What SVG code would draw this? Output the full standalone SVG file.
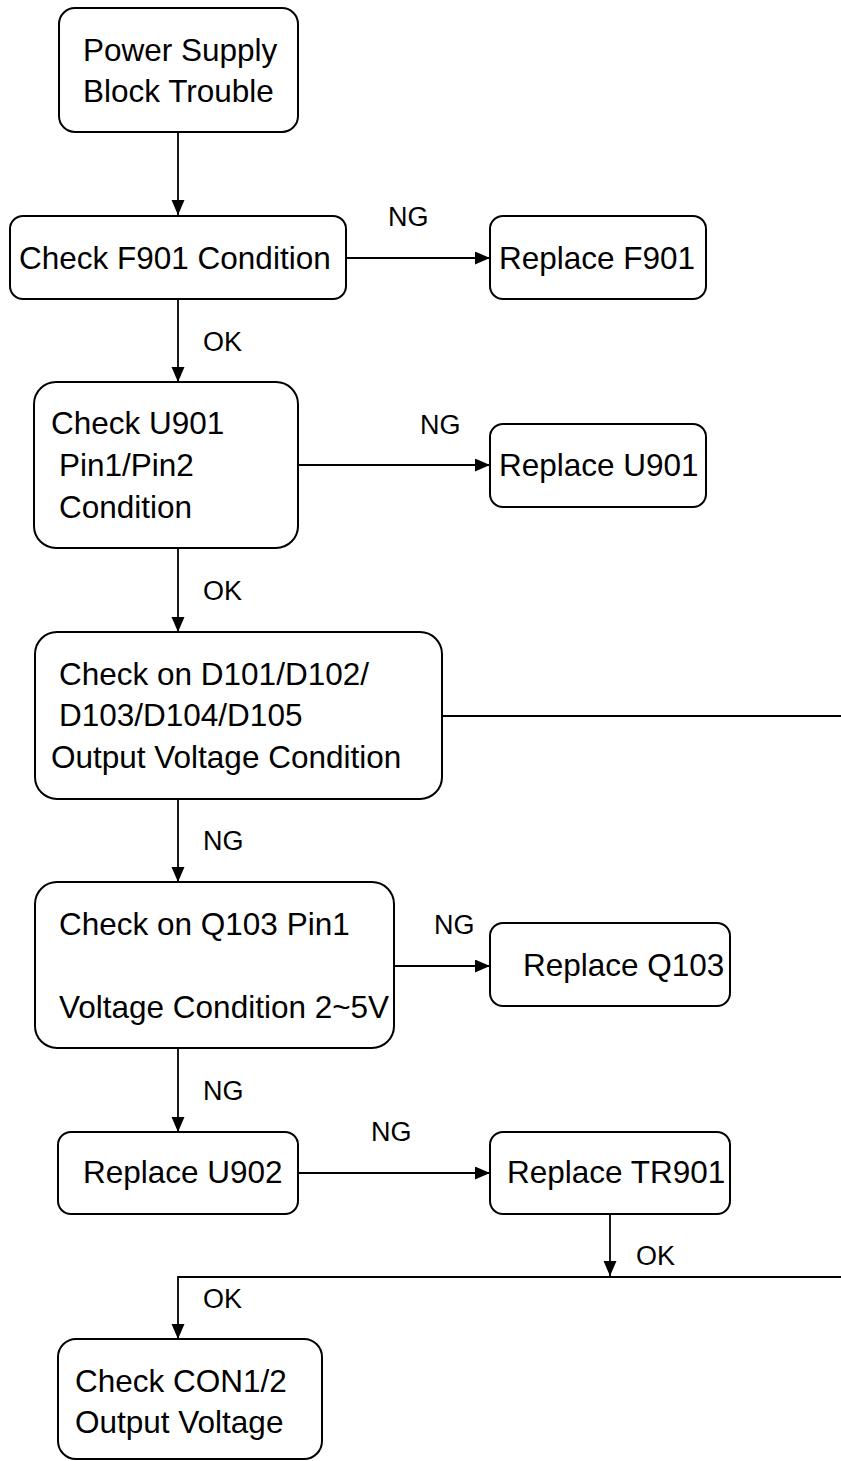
<svg xmlns="http://www.w3.org/2000/svg" width="841" height="1461" viewBox="0 0 841 1461">
<style>
.box{fill:#fff;stroke:#000;stroke-width:2}
.t{font-family:"Liberation Sans",Arial,sans-serif;font-size:31.5px;fill:#000}
.l{font-family:"Liberation Sans",Arial,sans-serif;font-size:27px;fill:#000}
.c{fill:none;stroke:#000;stroke-width:1.8}
</style>
<defs>
<marker id="ah" markerUnits="userSpaceOnUse" markerWidth="16" markerHeight="14" refX="15" refY="6.5" orient="auto">
<path d="M0,0 L15,6.5 L0,13 z" fill="#000"/>
</marker>
</defs>
<rect width="841" height="1461" fill="#fff"/>
<g id="connectors">
<line class="c" x1="178" y1="133" x2="178" y2="215" marker-end="url(#ah)"/>
<line class="c" x1="346" y1="258" x2="490" y2="258" marker-end="url(#ah)"/>
<line class="c" x1="178" y1="299" x2="178" y2="382" marker-end="url(#ah)"/>
<line class="c" x1="298" y1="465" x2="490" y2="465" marker-end="url(#ah)"/>
<line class="c" x1="178" y1="548" x2="178" y2="632" marker-end="url(#ah)"/>
<line class="c" x1="442" y1="716" x2="841" y2="716"/>
<line class="c" x1="178" y1="799" x2="178" y2="882" marker-end="url(#ah)"/>
<line class="c" x1="394" y1="966" x2="490" y2="966" marker-end="url(#ah)"/>
<line class="c" x1="178" y1="1048" x2="178" y2="1132" marker-end="url(#ah)"/>
<line class="c" x1="298" y1="1173" x2="490" y2="1173" marker-end="url(#ah)"/>
<line class="c" x1="610" y1="1214" x2="610" y2="1276" marker-end="url(#ah)"/>
<polyline class="c" points="841,1277 178,1277 178,1339" marker-end="url(#ah)"/>
<text class="l" x="388" y="226">NG</text>
<text class="l" x="203" y="351">OK</text>
<text class="l" x="420" y="434">NG</text>
<text class="l" x="203" y="600">OK</text>
<text class="l" x="203" y="850">NG</text>
<text class="l" x="434" y="934">NG</text>
<text class="l" x="203" y="1100">NG</text>
<text class="l" x="371" y="1141">NG</text>
<text class="l" x="636" y="1265">OK</text>
<text class="l" x="203" y="1308">OK</text>
</g>
<g id="n1"><rect class="box" x="59" y="8" width="239" height="124" rx="16"/>
<text class="t" x="83" y="61">Power Supply</text><text class="t" x="83" y="102">Block Trouble</text></g>
<g id="n2"><rect class="box" x="10" y="216" width="336" height="83" rx="13"/>
<text class="t" x="19" y="269">Check F901 Condition</text></g>
<g id="n3"><rect class="box" x="490" y="216" width="216" height="83" rx="13"/>
<text class="t" x="499" y="269">Replace F901</text></g>
<g id="n4"><rect class="box" x="34" y="382" width="264" height="166" rx="22"/>
<text class="t" x="51" y="434">Check U901</text><text class="t" x="59" y="476">Pin1/Pin2</text><text class="t" x="59" y="518">Condition</text></g>
<g id="n5"><rect class="box" x="490" y="424" width="216" height="83" rx="13"/>
<text class="t" x="499" y="476">Replace U901</text></g>
<g id="n6"><rect class="box" x="35" y="632" width="407" height="167" rx="22"/>
<text class="t" x="59" y="685">Check on D101/D102/</text><text class="t" x="59" y="726">D103/D104/D105</text><text class="t" x="51" y="768">Output Voltage Condition</text></g>
<g id="n7"><rect class="box" x="35" y="882" width="359" height="166" rx="22"/>
<text class="t" x="59" y="935">Check on Q103 Pin1</text><text class="t" x="59" y="1018">Voltage Condition 2~5V</text></g>
<g id="n8"><rect class="box" x="490" y="923" width="240" height="83" rx="13"/>
<text class="t" x="523" y="976">Replace Q103</text></g>
<g id="n9"><rect class="box" x="58" y="1132" width="240" height="82" rx="13"/>
<text class="t" x="83" y="1183">Replace U902</text></g>
<g id="n10"><rect class="box" x="490" y="1132" width="240" height="82" rx="13"/>
<text class="t" x="507" y="1183">Replace TR901</text></g>
<g id="n11"><rect class="box" x="58" y="1339" width="264" height="120" rx="18"/>
<text class="t" x="75" y="1392">Check CON1/2</text><text class="t" x="75" y="1433">Output Voltage</text></g>
</svg>
